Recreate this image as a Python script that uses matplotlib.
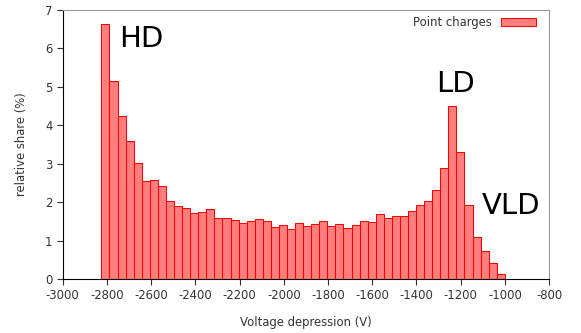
import numpy as np
import matplotlib
matplotlib.use("Agg")
import matplotlib.pyplot as plt

# --- data ---
bin_lo = -2825
bin_hi = -1000
shares = [6.64, 5.16, 4.23, 3.60, 3.01, 2.56, 2.58, 2.41, 2.04, 1.91,
          1.84, 1.71, 1.74, 1.81, 1.58, 1.58, 1.53, 1.45, 1.51, 1.55,
          1.52, 1.36, 1.40, 1.31, 1.45, 1.38, 1.43, 1.51, 1.38, 1.44,
          1.32, 1.40, 1.52, 1.48, 1.68, 1.60, 1.65, 1.64, 1.78, 1.93,
          2.02, 2.32, 2.89, 4.49, 3.31, 1.93, 1.10, 0.74, 0.41, 0.13]

labels = ["HD", "LD", "VLD"]
label_x = [-2746, -1311, -1105]
label_y = [6.05, 4.86, 1.70]

x_ticks = list(range(-3000, -799, 200))
y_ticks = list(range(0, 8))

plt.rcParams["axes.unicode_minus"] = False
plt.rcParams["font.family"] = "DejaVu Sans"

edges = np.linspace(bin_lo, bin_hi, len(shares) + 1)
widths = np.diff(edges)

fig = plt.figure(figsize=(5.81, 3.33), dpi=100)
ax = fig.add_axes([0.108, 0.162, 0.837, 0.808])

ax.bar(edges[:-1], shares, width=widths, align="edge",
       facecolor=(1, 0, 0, 0.5), edgecolor="red", linewidth=0.75,
       label="Point charges")

for txt, x, y in zip(labels, label_x, label_y):
    ax.text(x, y, txt, fontsize=21, color="black", ha="left", va="baseline")

ax.set_xlim(-3000, -800)
ax.set_ylim(0, 7)
ax.set_xticks(x_ticks)
ax.set_yticks(y_ticks)
ax.tick_params(direction="out", length=4, width=0.8, labelsize=8.4,
               labelcolor="#333333", color="#333333")

ax.spines["top"].set_color("#999999")
ax.spines["right"].set_color("#999999")
ax.spines["left"].set_color("black")
ax.spines["bottom"].set_color("black")

ax.set_xlabel("Voltage depression (V)", fontsize=8.4, color="#333333", labelpad=10)
ax.set_ylabel("relative share (%)", fontsize=8.4, color="#333333", labelpad=12)

ax.legend(loc="upper right", bbox_to_anchor=(0.994, 1.015), frameon=False,
          markerfirst=False, fontsize=8.4, handlelength=3.0, handleheight=0.7,
          borderaxespad=0.5, labelcolor="#333333")

fig.savefig("out.png", dpi=100)
